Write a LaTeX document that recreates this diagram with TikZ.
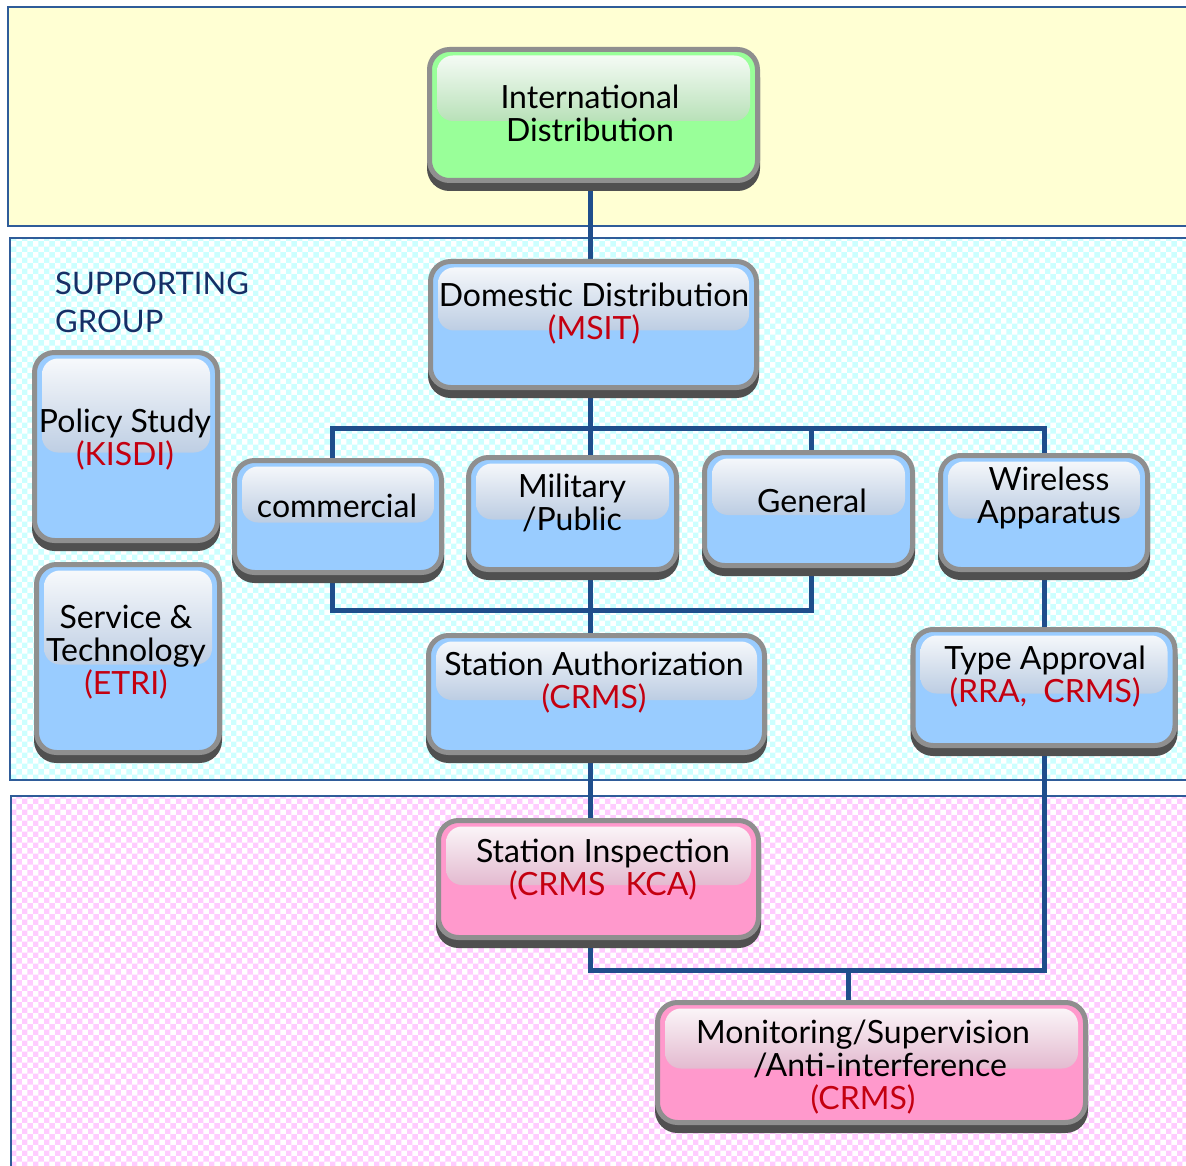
\documentclass[tikz,border=0pt]{standalone}
\usepackage{fontspec}
\setmainfont{Lato}
\usetikzlibrary{shadows,patterns}
\definecolor{bandline}{HTML}{2F5C99}
\definecolor{bandyellow}{HTML}{FFFFD3}
\definecolor{cyanchk}{HTML}{CCFFFF}
\definecolor{pinkchk}{HTML}{FFCCFF}
\definecolor{boxblue}{HTML}{99CCFF}
\definecolor{boxgreen}{HTML}{99FF99}
\definecolor{boxpink}{HTML}{FF99CC}
\definecolor{glossblue}{HTML}{8AA7CD}
\definecolor{glossgreen}{HTML}{82CA82}
\definecolor{glosspink}{HTML}{CE86AC}
\definecolor{rimgray}{HTML}{8F8F8F}
\definecolor{shadowgray}{HTML}{505050}
\definecolor{linkblue}{HTML}{1F4E8C}
\definecolor{orgred}{HTML}{C40010}
\definecolor{groupnavy}{HTML}{162F66}
\pgfdeclarelayer{bg}
\pgfdeclarelayer{wires}
\pgfsetlayers{bg,wires,main}

\begin{document}
\begin{tikzpicture}[x=1pt,y=-1pt,
  box/.style={rectangle, rounded corners=20pt, draw=rimgray, line width=5pt, inner sep=0pt, outer sep=0pt,
    drop shadow={shadow xshift=0pt, shadow yshift=-8pt, opacity=1, fill=shadowgray, draw=shadowgray, line width=5pt}},
  gloss/.style={path picture={\fill[top color=white!96!#1, bottom color=#1, rounded corners=16pt]
    ([xshift=7.5pt,yshift=-6pt]path picture bounding box.north west) rectangle
    ([xshift=-7.5pt,yshift=-6pt]path picture bounding box.east);}},
  bluebox/.style={box, fill=boxblue, gloss=glossblue},
  greenbox/.style={box, fill=boxgreen, gloss=glossgreen},
  pinkbox/.style={box, fill=boxpink, gloss=glosspink},
  boxtext/.style={align=center, inner sep=0pt, font=\fontsize{32pt}{33pt}\selectfont},
  band/.style={draw=bandline, line width=2pt},
  link/.style={draw=linkblue, line width=5pt}]

\useasboundingbox (0,0) rectangle (1186,1166);

\begin{pgfonlayer}{bg}
\path[band, fill=bandyellow] (8,7) rectangle (1200,226);
\path[band, preaction={fill=white}, pattern=checkerboard, pattern color=cyanchk] (10,238) rectangle (1200,780);
\path[band, preaction={fill=white}, pattern=checkerboard, pattern color=pinkchk] (11,796) rectangle (1200,1190);
\end{pgfonlayer}

\node[anchor=west, align=left, inner sep=0pt, text=groupnavy, font=\fontsize{31pt}{38pt}\selectfont] (group) at (55,302) {SUPPORTING\\GROUP};

% boxes
\node[greenbox, minimum width=328pt, minimum height=131pt] (intl) at (593.5,115) {};
\node[bluebox, minimum width=326pt, minimum height=126pt] (dom) at (593.5,324.5) {};
\node[bluebox, minimum width=183pt, minimum height=188pt] (pol) at (126,446.5) {};
\node[bluebox, minimum width=183pt, minimum height=188pt] (ser) at (128,658.5) {};
\node[bluebox, minimum width=207pt, minimum height=112pt] (com) at (338,516.5) {};
\node[bluebox, minimum width=208pt, minimum height=112pt] (mil) at (572.5,513.5) {};
\node[bluebox, minimum width=208pt, minimum height=113pt] (gen) at (808.5,509) {};
\node[bluebox, minimum width=207pt, minimum height=114pt] (wir) at (1044,512.5) {};
\node[bluebox, minimum width=336pt, minimum height=117pt] (sta) at (596.5,694) {};
\node[bluebox, minimum width=262pt, minimum height=116pt] (typ) at (1044,687.5) {};
\node[pinkbox, minimum width=320pt, minimum height=117pt] (ins) at (598.5,879) {};
\node[pinkbox, minimum width=428pt, minimum height=120pt] (mon) at (871.5,1062.5) {};

% texts
\node[boxtext] (intlT) at (590,113) {International\\Distribution};
\node[boxtext] (domT) at (594,314) {Domestic Distribution\\\textcolor{orgred}{(MSIT)}};
\node[boxtext] (polT) at (125,439.5) {Policy Study\\\textcolor{orgred}{(KISDI)}};
\node[boxtext] (serT) at (126,652) {Service \&\\Technology\\\textcolor{orgred}{(ETRI)}};
\node[boxtext] (comT) at (337,506) {commercial};
\node[boxtext] (milT) at (572,503) {Military\\/Public};
\node[boxtext] (genT) at (812,501) {General};
\node[boxtext] (wirT) at (1049,497.5) {Wireless\\Apparatus};
\node[boxtext] (staT) at (594,683) {Station Authorization\\\textcolor{orgred}{(CRMS)}};
\node[boxtext] (typT) at (1045,677) {Type Approval\\\textcolor{orgred}{(RRA,\ \ CRMS)}};
\node[boxtext] (insT) at (603,870) {Station Inspection\\\textcolor{orgred}{(CRMS\hspace{20pt}KCA)}};
\node[boxtext] (monT) at (863,1067.5) {Monitoring/Supervision\\\hspace*{34pt}/Anti-interference\\\textcolor{orgred}{(CRMS)}};

\coordinate (trunk) at (590,0);
\coordinate (comX) at (332,0);
\coordinate (genX) at (811,0);
\coordinate (monX) at (848,0);
\coordinate (busA) at (0,428);
\coordinate (busB) at (0,610);
\coordinate (busC) at (0,970);

\begin{pgfonlayer}{wires}
\draw[link] (intl.south -| trunk) -- (dom.north -| trunk);
\draw[link] (dom.south -| trunk) -- (mil.north -| trunk);
\draw[link] (com.north -| comX) |- (busA -| wir.north) -- (wir.north);
\draw[link] (gen.north -| genX) -- (busA -| genX);
\draw[link] (com.south -| comX) |- (busB -| genX) -- (gen.south -| genX);
\draw[link] (mil.south -| trunk) -- (sta.north -| trunk);
\draw[link] (wir.south) -- (typ.north);
\draw[link] (sta.south -| trunk) -- (ins.north -| trunk);
\draw[link] (ins.south -| trunk) |- (busC -| typ.south) -- (typ.south);
\draw[link] (mon.north -| monX) -- (busC -| monX);
\end{pgfonlayer}
\end{tikzpicture}
\end{document}
